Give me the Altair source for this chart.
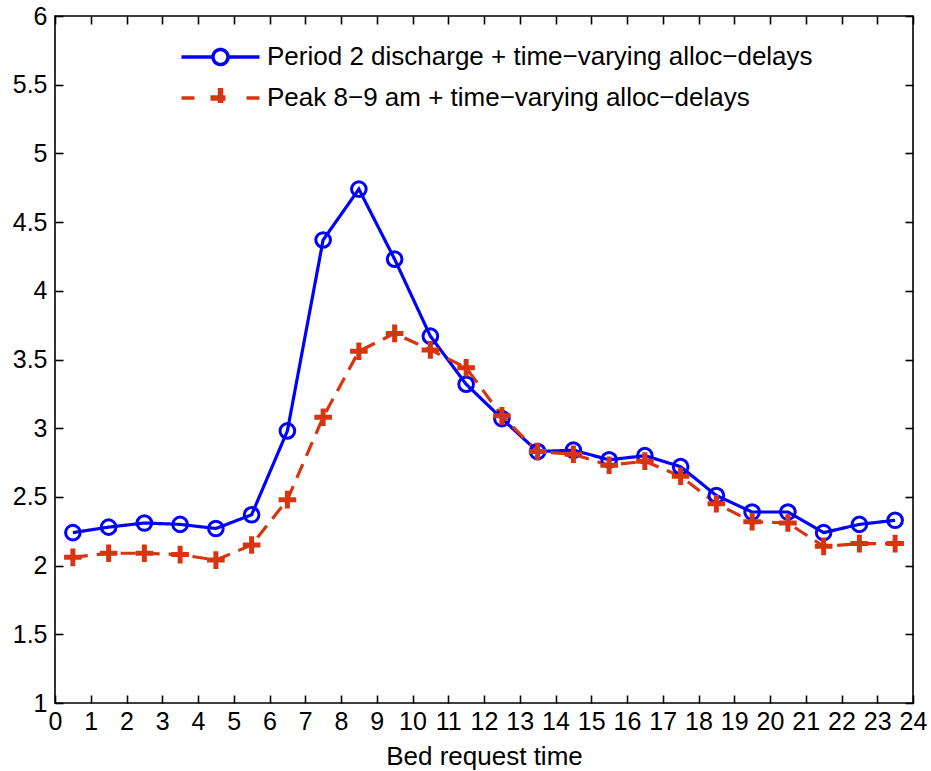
import altair as alt
import pandas as pd

# ---------------- data ----------------
hours = [0.5, 1.5, 2.5, 3.5, 4.5, 5.5, 6.5, 7.5, 8.5, 9.5, 10.5, 11.5,
         12.5, 13.5, 14.5, 15.5, 16.5, 17.5, 18.5, 19.5, 20.5, 21.5, 22.5, 23.5]
period2 = [2.24, 2.28, 2.31, 2.30, 2.27, 2.37, 2.98, 4.37, 4.74, 4.23, 3.67, 3.32,
           3.07, 2.83, 2.84, 2.77, 2.80, 2.72, 2.51, 2.39, 2.39, 2.24, 2.30, 2.33]
peak89 = [2.06, 2.09, 2.09, 2.08, 2.04, 2.15, 2.48, 3.08, 3.56, 3.69, 3.57, 3.44,
          3.09, 2.83, 2.81, 2.73, 2.76, 2.65, 2.45, 2.32, 2.31, 2.14, 2.16, 2.16]
S1 = "Period 2 discharge + time\u2212varying alloc\u2212delays"
S2 = "Peak 8\u22129 am + time\u2212varying alloc\u2212delays"
x_ticks = list(range(0, 25))
y_ticks = [1, 1.5, 2, 2.5, 3, 3.5, 4, 4.5, 5, 5.5, 6]

df1 = pd.DataFrame({"hour": hours, "value": period2, "series": S1})
df2 = pd.DataFrame({"hour": hours, "value": peak89, "series": S2})
df = pd.concat([df1, df2], ignore_index=True)

# ---------------- style ----------------
FONT = "Liberation Sans"
BLUE = "#0000FF"
RED = "#D8340F"
W, H = 858, 687
FS = 25
LFS = 26

xscale = alt.Scale(domain=[0, 24], nice=False, zero=False)
yscale = alt.Scale(domain=[1, 6], nice=False, zero=False)

def tick_axis(orient, offset, values):
    return alt.Axis(orient=orient, offset=offset, values=values, labels=False,
                    domain=False, grid=False, ticks=True, tickSize=8,
                    tickWidth=1.6, tickColor="black", title=None)

x_label_axis = alt.Axis(orient="bottom", values=x_ticks, ticks=False, domain=False,
                        grid=False, labelFlush=False, labelOverlap=False,
                        labelFontSize=FS, labelFont=FONT, labelColor="black",
                        labelPadding=6, title="Bed request time", titleFontSize=LFS,
                        titleFont=FONT, titleFontWeight="normal", titleColor="black",
                        titlePadding=9)
y_label_axis = alt.Axis(orient="left", values=y_ticks, format="~g", ticks=False,
                        domain=False, grid=False, labelFontSize=FS, labelFont=FONT,
                        labelColor="black", labelPadding=8, labelOverlap=False,
                        title=None)

P_BLUE = ("M-3.9,0L-0.75,0M0.75,0L3.9,0"
          "M0.75,0A0.75,0.75 0 1,1 -0.75,0A0.75,0.75 0 1,1 0.75,0")
P_RED = ("M-3.9,0L-2.6,0M2.6,0L3.9,0"
         "M-1,-0.1L1,-0.1M-1,0.1L1,0.1M-0.1,-1L-0.1,1M0.1,-1L0.1,1")
PLUS = "M-1,0L1,0M0,-1L0,1"

legend = alt.Legend(
    orient="none", legendX=152.5, legendY=28, direction="vertical", title=None,
    symbolSize=400, symbolStrokeWidth=3.5, symbolFillColor="transparent",
    symbolType=alt.ExprRef(
        f"indexof(datum.value, 'Period') >= 0 ? '{P_BLUE}' : '{P_RED}'"),
    labelFontSize=LFS, labelFont=FONT,
    labelColor="black", labelOffset=33.5, labelLimit=0, rowPadding=9, padding=0,
)

lines = alt.Chart(df).mark_line(strokeWidth=3.2).encode(
    x=alt.X("hour:Q", scale=xscale, axis=x_label_axis),
    y=alt.Y("value:Q", scale=yscale, axis=y_label_axis),
    color=alt.Color("series:N", scale=alt.Scale(domain=[S1, S2], range=[BLUE, RED]),
                    legend=legend),
    strokeDash=alt.StrokeDash("series:N",
                              scale=alt.Scale(domain=[S1, S2], range=[[1, 0], [15, 9]]),
                              legend=None),
    order="hour:Q",
)

circles = alt.Chart(df1).mark_point(shape="circle", filled=False, size=215,
                                    strokeWidth=3, color=BLUE, opacity=1).encode(
    x=alt.X("hour:Q", scale=xscale, axis=tick_axis("top", -H, x_ticks)),
    y=alt.Y("value:Q", scale=yscale, axis=tick_axis("right", -W, y_ticks)),
)

pluses = alt.Chart(df2).mark_point(shape=PLUS, filled=False, size=310,
                                   strokeWidth=5, color=RED, opacity=1).encode(
    x=alt.X("hour:Q", scale=xscale, axis=tick_axis("bottom", -H, x_ticks)),
    y=alt.Y("value:Q", scale=yscale, axis=tick_axis("left", -W, y_ticks)),
)

chart = alt.layer(lines, circles, pluses).resolve_scale(
    x="shared", y="shared"
).resolve_axis(
    x="independent", y="independent"
).properties(
    width=W, height=H,
    autosize=alt.AutoSizeParams(type="none"),
    padding={"left": 55, "top": 16, "right": 18, "bottom": 68},
    background="white",
).configure_view(stroke="black", strokeWidth=1.6)

chart.save("out.html", embed_options={"renderer": "svg", "actions": False})
